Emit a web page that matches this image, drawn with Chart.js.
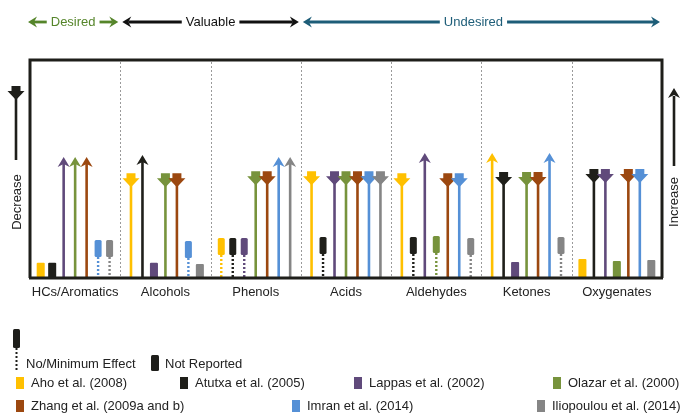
<!DOCTYPE html>
<html>
<head>
<meta charset="utf-8">
<script src="https://cdn.jsdelivr.net/npm/chart.js@4/dist/chart.umd.min.js"></script>
<style>
  body { margin: 0; background: #fff; }
  #wrap { width: 682px; height: 414px; }
</style>
</head>
<body>
<div id="wrap"><canvas id="fx" width="682" height="414"></canvas></div>
<script>
// product groups along the x axis
const categories = ['HCs/Aromatics', 'Alcohols', 'Phenols', 'Acids', 'Aldehydes', 'Ketones', 'Oxygenates'];

// studies (legend order)
const studies = ['Aho et al. (2008)', 'Atutxa et al. (2005)', 'Lappas et al. (2002)', 'Olazar et al. (2000)',
  'Zhang et al. (2009a and b)', 'Imran et al. (2014)', 'Iliopoulou et al. (2014)'];

// effect per category: U = increase, D = decrease, N = no/minimum effect, R = not reported
const ahoEffect    = ['R', 'D', 'N', 'D', 'D', 'U', 'R'];
const atutxaEffect = ['R', 'U', 'N', 'N', 'N', 'D', 'D'];
const lappasEffect = ['U', 'R', 'N', 'D', 'U', 'R', 'D'];
const olazarEffect = ['U', 'D', 'D', 'D', 'N', 'D', 'R'];
const zhangEffect  = ['U', 'D', 'D', 'D', 'D', 'D', 'D'];
const imranEffect  = ['N', 'N', 'U', 'D', 'D', 'U', 'D'];
const ilioEffect   = ['N', 'R', 'U', 'D', 'N', 'N', 'R'];

// mark heights (0 = baseline, 100 = top of frame)
const ahoValue    = [7, 48, 18.3, 49, 48, 57.3, 8.7];
const atutxaValue = [7, 56.4, 18.3, 18.8, 18.8, 48.6, 50];
const lappasValue = [55.5, 7, 18.3, 49, 57.3, 7.3, 50];
const olazarValue = [55.5, 48, 49, 49, 19.3, 48.6, 7.8];
const zhangValue  = [55.5, 48, 49, 49, 48, 48.6, 50];
const imranValue  = [17.4, 17, 55.5, 49, 48, 57.3, 50];
const ilioValue   = [17.4, 6.4, 55.5, 49, 18.3, 18.8, 8.3];

// header groups: label, first and last category index
const groupLabels = ['Desired', 'Valuable', 'Undesired'];
const groupFrom = [0, 1, 3];
const groupTo = [0, 2, 6];

// styles
const studyColors = ['#ffc000', '#1f1f1a', '#604a7b', '#77933c', '#9c4810', '#5590d6', '#858585'];
const groupColors = ['#55852a', '#111111', '#1d5d78'];
const FONT = '"Liberation Sans", Arial, sans-serif';

const effects = [ahoEffect, atutxaEffect, lappasEffect, olazarEffect, zhangEffect, imranEffect, ilioEffect];
const values = [ahoValue, atutxaValue, lappasValue, olazarValue, zhangValue, imranValue, ilioValue];

const datasets = studies.map((name, i) => ({
  label: name,
  data: values[i],
  effect: effects[i],
  color: studyColors[i],
  backgroundColor: c => effects[i][c.dataIndex] === 'R' ? studyColors[i] : 'rgba(0,0,0,0)',
  borderWidth: 0,
  borderRadius: 1,
  categoryPercentage: 0.89,
  barPercentage: 0.7
}));

function downHead(ctx, x, top, color) {
  ctx.fillStyle = color;
  ctx.beginPath();
  ctx.moveTo(x - 4.5, top);
  ctx.lineTo(x + 4.5, top);
  ctx.lineTo(x + 4.5, top + 5);
  ctx.lineTo(x + 8.5, top + 5);
  ctx.lineTo(x, top + 14);
  ctx.lineTo(x - 8.5, top + 5);
  ctx.lineTo(x - 4.5, top + 5);
  ctx.closePath();
  ctx.fill();
}

function upHead(ctx, x, top, color) {
  ctx.fillStyle = color;
  ctx.beginPath();
  ctx.moveTo(x, top);
  ctx.lineTo(x + 6, top + 10);
  ctx.lineTo(x, top + 7);
  ctx.lineTo(x - 6, top + 10);
  ctx.closePath();
  ctx.fill();
}

function vline(ctx, x, y1, y2, color, w, dash) {
  ctx.save();
  ctx.strokeStyle = color;
  ctx.lineWidth = w;
  ctx.setLineDash(dash || []);
  ctx.beginPath();
  ctx.moveTo(x, y1);
  ctx.lineTo(x, y2);
  ctx.stroke();
  ctx.restore();
}

function hArrow(ctx, x1, x2, y, color) {
  // line from x1 to x2, with head at x2
  ctx.save();
  ctx.strokeStyle = color;
  ctx.fillStyle = color;
  ctx.lineWidth = 2.8;
  const dir = Math.sign(x2 - x1);
  ctx.beginPath();
  ctx.moveTo(x1, y);
  ctx.lineTo(x2 - dir * 6, y);
  ctx.stroke();
  ctx.beginPath();
  ctx.moveTo(x2, y);
  ctx.lineTo(x2 - dir * 9, y - 5.5);
  ctx.lineTo(x2 - dir * 6, y);
  ctx.lineTo(x2 - dir * 9, y + 5.5);
  ctx.closePath();
  ctx.fill();
  ctx.restore();
}

function roundRect(ctx, x, y, w, h, r, color) {
  ctx.fillStyle = color;
  ctx.beginPath();
  ctx.roundRect(x, y, w, h, r);
  ctx.fill();
}

const marksPlugin = {
  id: 'marks',
  afterDatasetsDraw(chart) {
    const ctx = chart.ctx;
    ctx.save();
    chart.data.datasets.forEach((ds, i) => {
      chart.getDatasetMeta(i).data.forEach((bar, j) => {
        const e = ds.effect[j];
        const x = bar.x, top = bar.y, base = bar.base;
        if (e === 'U') {
          vline(ctx, x, base, top + 5, ds.color, 2.6);
          upHead(ctx, x, top, ds.color);
        } else if (e === 'D') {
          vline(ctx, x, base, top + 10, ds.color, 2.6);
          downHead(ctx, x, top, ds.color);
        } else if (e === 'N') {
          roundRect(ctx, x - 3.5, top, 7, 17, 1.5, ds.color);
          vline(ctx, x, top + 17, base, ds.color, 2.4, [2, 2]);
        }
      });
    });
    ctx.restore();
  },
  afterDraw(chart) {
    const ctx = chart.ctx;
    const a = chart.chartArea;
    const xs = chart.scales.x;
    const edge = k => k <= 0 ? a.left : k >= categories.length ? a.right
      : (xs.getPixelForValue(k - 1) + xs.getPixelForValue(k)) / 2;
    ctx.save();

    // category separators
    for (let k = 1; k < categories.length; k++) {
      vline(ctx, Math.round(edge(k)) + 0.5, a.top + 2, a.bottom, '#9a9a9a', 1, [2, 2]);
    }

    // frame
    ctx.strokeStyle = '#1e1e1a';
    ctx.lineWidth = 3;
    ctx.beginPath();
    ctx.moveTo(a.left, a.bottom);
    ctx.lineTo(a.left, a.top);
    ctx.lineTo(a.right, a.top);
    ctx.lineTo(a.right, a.bottom);
    ctx.stroke();
    ctx.beginPath();
    ctx.moveTo(a.left - 1, a.bottom);
    ctx.lineTo(a.right + 1, a.bottom);
    ctx.stroke();

    // header
    ctx.font = '13px ' + FONT;
    ctx.textBaseline = 'middle';
    ctx.textAlign = 'center';
    const hy = 22;
    groupLabels.forEach((g, k) => {
      const x1 = edge(groupFrom[k]) + (k === 0 ? -2 : 2);
      const x2 = edge(groupTo[k] + 1) - 2;
      const tw = ctx.measureText(g).width;
      const cx = k === 2 ? (x1 + x2) / 2 - 8 : (x1 + x2) / 2;
      ctx.fillStyle = groupColors[k];
      ctx.fillText(g, cx, hy);
      hArrow(ctx, cx - tw / 2 - 4, x1, hy, groupColors[k]);
      hArrow(ctx, cx + tw / 2 + 4, x2, hy, groupColors[k]);
    });

    // side indicators
    const mid = 202;
    vline(ctx, 16, 97, 160, '#1e1e1a', 2.6);
    downHead(ctx, 16, 86, '#1e1e1a');
    vline(ctx, 674, 96, 166, '#1e1e1a', 2.6);
    upHead(ctx, 674, 88, '#1e1e1a');
    ctx.fillStyle = '#222';
    [['Decrease', 17], ['Increase', 674]].forEach(([t, x]) => {
      ctx.save();
      ctx.translate(x, mid);
      ctx.rotate(-Math.PI / 2);
      ctx.fillText(t, 0, 0);
      ctx.restore();
    });

    // legend: effect keys
    ctx.textAlign = 'left';
    roundRect(ctx, 13, 329, 7, 19, 1.5, '#1e1e1a');
    vline(ctx, 16.5, 348, 372, '#1e1e1a', 2, [2, 2]);
    ctx.fillStyle = '#222';
    ctx.fillText('No/Minimum Effect', 26, 364);
    roundRect(ctx, 151, 355, 8, 16, 1.5, '#1e1e1a');
    ctx.fillStyle = '#222';
    ctx.fillText('Not Reported', 165, 364);

    // legend: studies
    const legendX = [16, 180, 354, 553, 16, 292, 537];
    const legendY = [383, 383, 383, 383, 406, 406, 406];
    studies.forEach((s, i) => {
      ctx.fillStyle = studyColors[i];
      ctx.fillRect(legendX[i], legendY[i] - 6, 8, 12);
      ctx.fillStyle = '#222';
      ctx.fillText(s, legendX[i] + 15, legendY[i]);
    });

    ctx.restore();
  }
};

new Chart(document.getElementById('fx'), {
  type: 'bar',
  data: { labels: categories, datasets: datasets },
  options: {
    responsive: false,
    animation: false,
    devicePixelRatio: 1,
    layout: { padding: { left: 30, right: 20, top: 60, bottom: 106 } },
    plugins: { legend: { display: false }, tooltip: { enabled: false } },
    scales: {
      x: {
        grid: { display: false, drawTicks: false },
        border: { display: false },
        ticks: { color: '#222', font: { size: 13, family: FONT }, padding: 7, maxRotation: 0 },
        afterFit: s => { s.height = 30; }
      },
      y: { display: false, min: 0, max: 100 }
    }
  },
  plugins: [marksPlugin]
});
</script>
</body>
</html>
